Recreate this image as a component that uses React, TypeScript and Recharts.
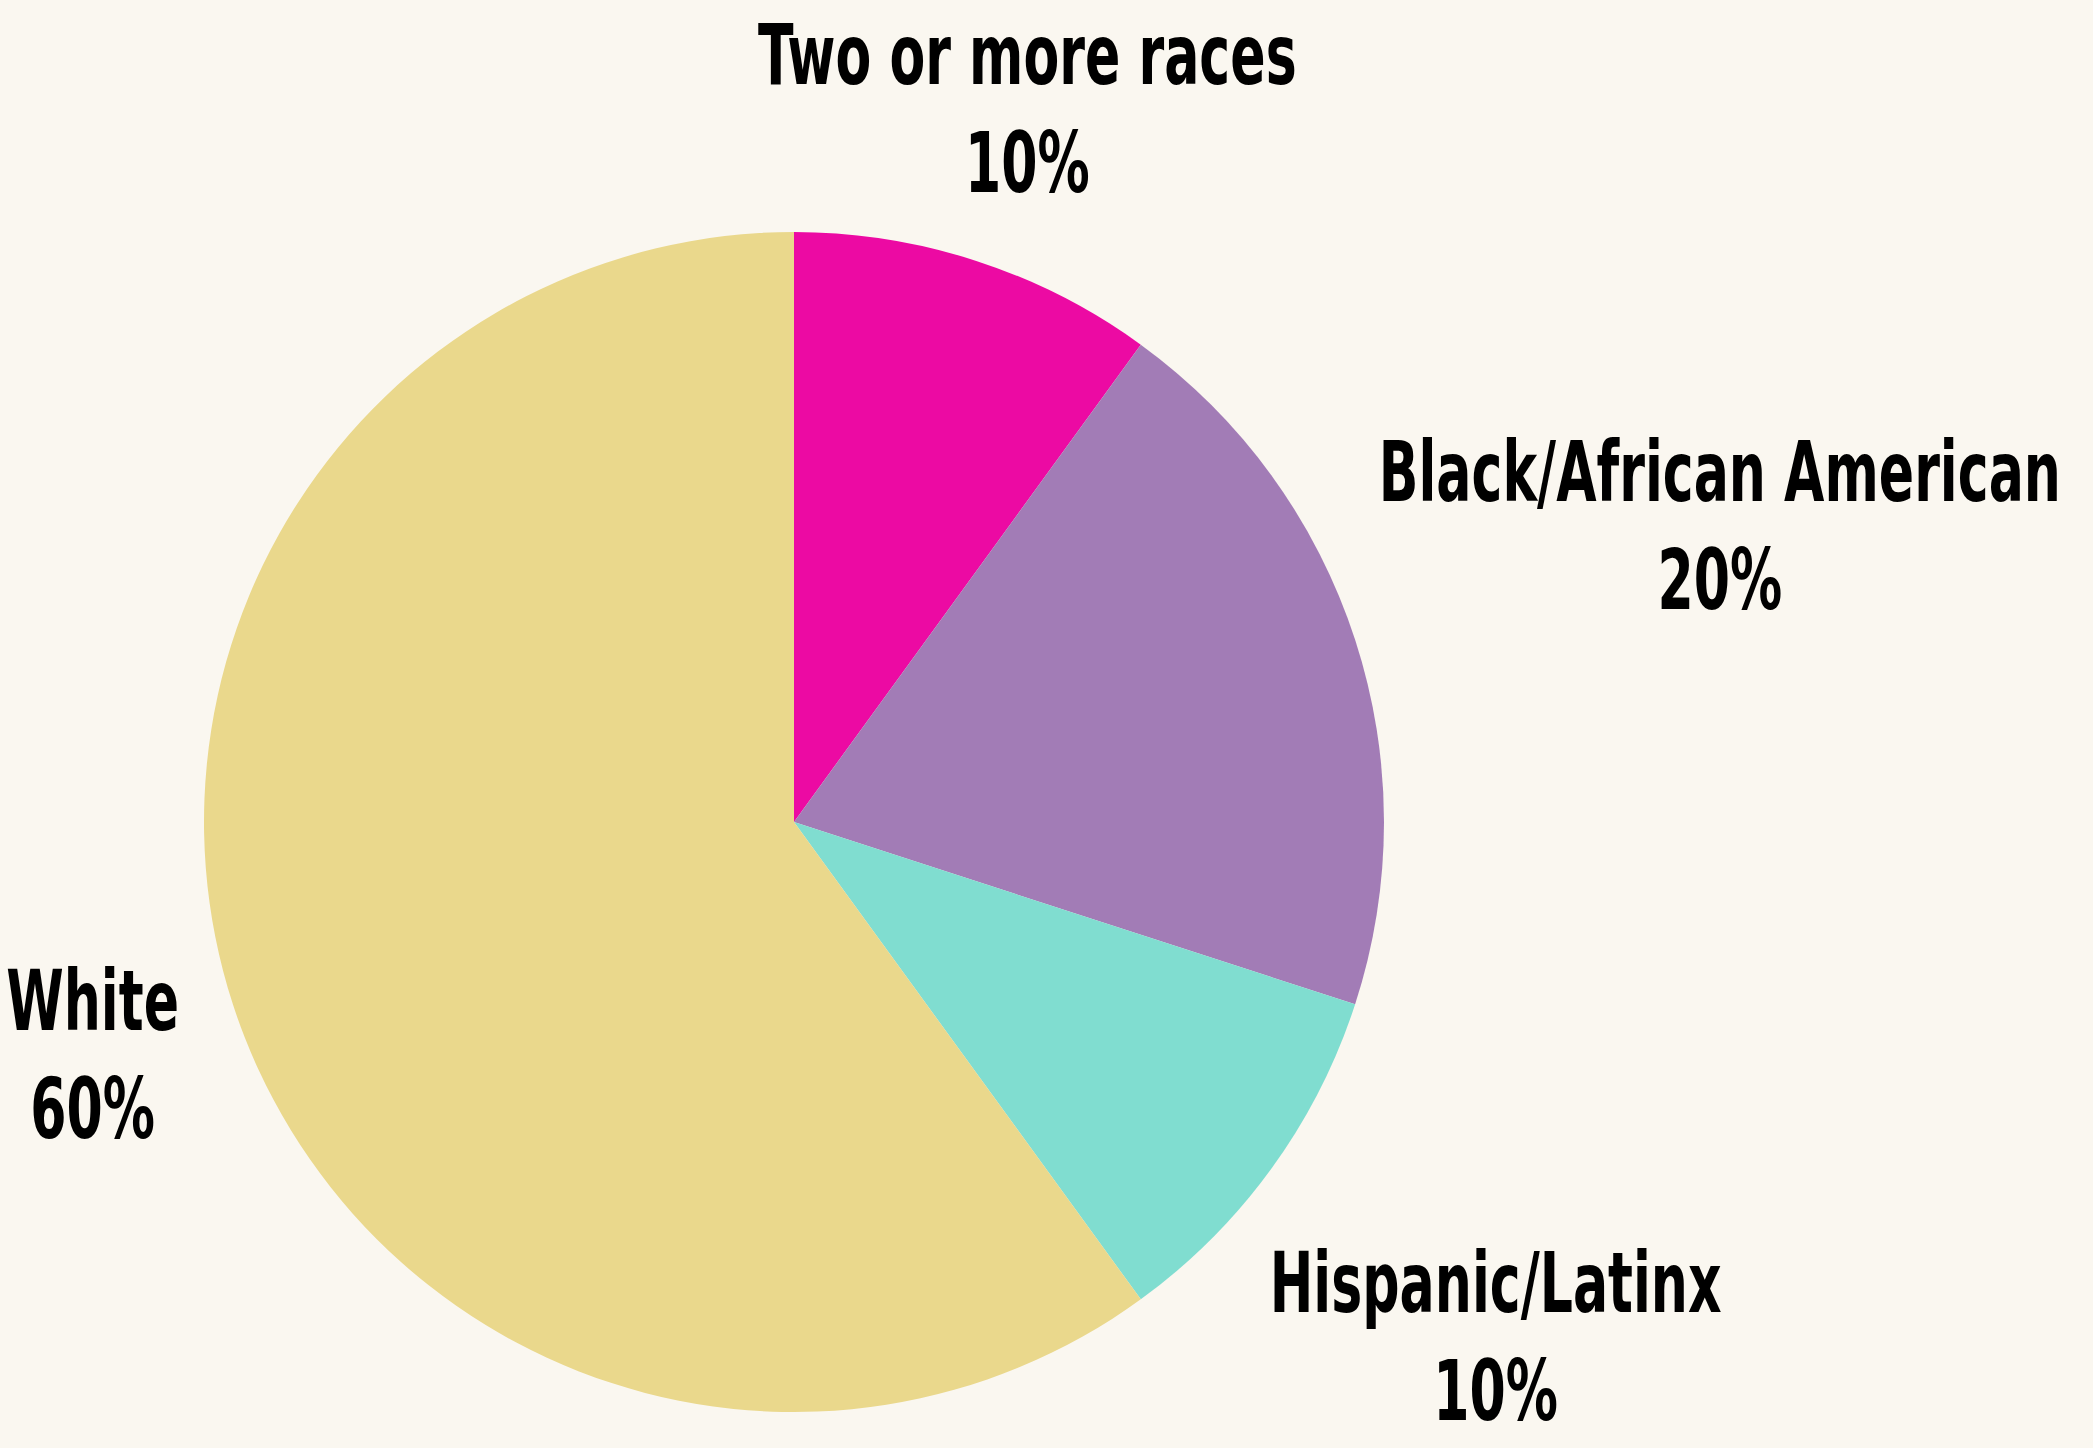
import React from "react";
import { PieChart, Pie, Cell } from "recharts";

// race / ethnicity breakdown
const groups = ["Two or more races", "Black/African American", "Hispanic/Latinx", "White"];
const shares = [10, 20, 10, 60];
const colors = ["#EC0AA3", "#A27CB6", "#80DDD0", "#EAD88C"];

const data = groups.map((name, i) => ({ name, value: shares[i] }));

// how far out each label sits, as a multiple of the pie radius
const labelDistance = [1.28, 1.65, 1.47, 1.25];
const RADIAN = Math.PI / 180;

// drop the default body margin so the chart fills the window
document.body.style.margin = "0";
document.body.style.background = "#FAF7F0";

const labelFont = "'DejaVu Sans Condensed', 'DejaVu Sans', sans-serif";

const renderLabel = ({ cx, cy, midAngle, outerRadius, percent, name, index }) => {
  const r = outerRadius * labelDistance[index];
  const x = cx + r * Math.cos(-midAngle * RADIAN);
  const y = cy + r * Math.sin(-midAngle * RADIAN);
  return (
    <g transform={`translate(${x},${y}) scale(0.69,1)`}>
      <text
        x={0}
        y={-49}
        textAnchor="middle"
        dominantBaseline="central"
        fill="#000"
        fontFamily={labelFont}
        fontWeight="bold"
        fontSize={84}
      >
        {name}
      </text>
      <text
        x={0}
        y={59}
        textAnchor="middle"
        dominantBaseline="central"
        fill="#000"
        fontFamily={labelFont}
        fontWeight="bold"
        fontSize={84}
      >
        {Math.round(percent * 100) + "%"}
      </text>
    </g>
  );
};

export default function App() {
  return (
    <div style={{ width: 2093, height: 1448, background: "#FAF7F0" }}>
      <PieChart
        width={2093}
        height={1448}
        margin={{ top: 0, right: 0, bottom: 0, left: 0 }}
      >
        <Pie
          data={data}
          dataKey="value"
          nameKey="name"
          cx={794}
          cy={822}
          outerRadius={590}
          startAngle={90}
          endAngle={-270}
          stroke="none"
          label={renderLabel}
          labelLine={false}
          isAnimationActive={false}
        >
          {data.map((entry, index) => (
            <Cell key={entry.name} fill={colors[index]} />
          ))}
        </Pie>
      </PieChart>
    </div>
  );
}
